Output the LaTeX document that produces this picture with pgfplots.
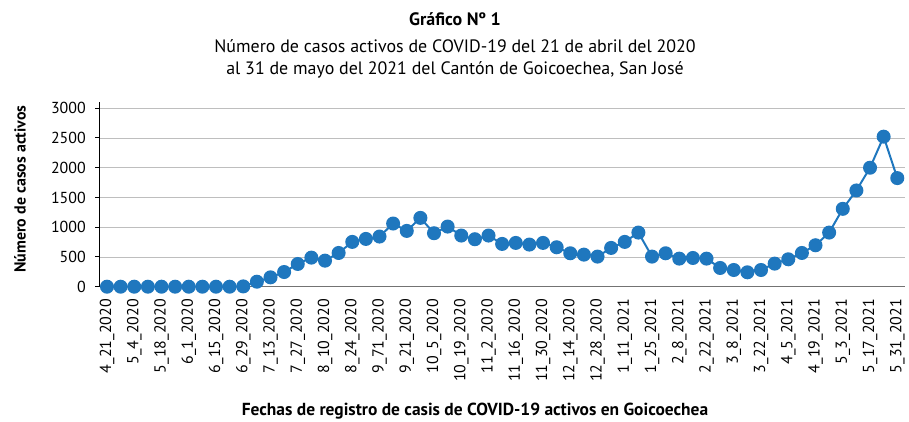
\documentclass[border=0pt]{standalone}
\usepackage{pgfplots}
\pgfplotsset{compat=1.18}
\usepackage{fontspec}
\setmainfont{PT Sans}
\definecolor{serie}{RGB}{31,119,190}
\definecolor{grid}{RGB}{190,190,190}
\begin{document}
\begin{tikzpicture}[x=1bp,y=1bp]
\path[use as bounding box] (0,0) rectangle (909,421);
\begin{axis}[
  at={(99.3bp,134.3bp)}, anchor=south west,
  scale only axis, width=806bp, height=185bp,
  xmin=-0.565, xmax=58.59, ymin=0, ymax=3110,
  axis x line*=bottom, axis y line*=left,
  x axis line style={draw=black!55, line width=1.2bp, -},
  y axis line style={draw=black, line width=1.2bp, -},
  ytick={0,500,...,3000},
  ymajorgrids, grid style={draw=grid, line width=0.9bp},
  xtick={0,2,...,58},
  xticklabels={4\_21\_2020,5\_4\_2020,5\_18\_2020,6\_1\_2020,6\_15\_2020,6\_29\_2020,7\_13\_2020,7\_27\_2020,8\_10\_2020,8\_24\_2020,9\_71\_2020,9\_21\_2020,10\_5\_2020,10\_19\_2020,11\_2\_2020,11\_16\_2020,11\_30\_2020,12\_14\_2020,12\_28\_2020,1\_11\_2021,1\_25\_2021,2\_8\_2021,2\_22\_2021,3\_8\_2021,3\_22\_2021,4\_5\_2021,4\_19\_2021,5\_3\_2021,5\_17\_2021,5\_31\_2021},
  x tick style={draw=none},
  y tick style={draw=black, line width=1bp},
  tick align=outside, major tick length=4bp,
  /pgf/number format/assume math mode=true,
  /pgf/number format/1000 sep={},
  yticklabel style={font=\fontsize{16}{16}\selectfont, xshift=-6bp},
  xticklabel style={font=\fontsize{16}{16}\selectfont, rotate=90, anchor=east, xshift=-5bp},
  scaled y ticks=false,
  clip=false,
]
\addplot[color=serie, line width=2bp, mark=*, mark size=6bp, mark options={fill=serie, draw=serie}] coordinates {
(0,0) (1,0) (2,0) (3,0) (4,0) (5,0) (6,0) (7,0) (8,0) (9,0)
(10,5) (11,84) (12,157) (13,247) (14,382) (15,489) (16,438) (17,567) (18,753) (19,803)
(20,843) (21,1062) (22,938) (23,1157) (24,899) (25,1011) (26,860) (27,798) (28,860) (29,719)
(30,736) (31,708) (32,736) (33,663) (34,562) (35,539) (36,506) (37,652) (38,753) (39,910)
(40,506) (41,562) (42,472) (43,483) (44,472) (45,315) (46,281) (47,242) (48,281) (49,388)
(50,461) (51,567) (52,697) (53,910) (54,1309) (55,1618) (56,2000) (57,2522) (58,1826)
};
\end{axis}
\node[font=\fontsize{18}{18}\selectfont\bfseries] at (455,402) {Gráfico Nº 1};
\node[font=\fontsize{18}{18}\selectfont] at (455,375) {Número de casos activos de COVID-19 del 21 de abril del 2020};
\node[font=\fontsize{18}{18}\selectfont] at (455,351) {al 31 de mayo del 2021 del Cantón de Goicoechea, San José};
\node[font=\fontsize{17.5}{17.5}\selectfont\bfseries] at (475,10) {Fechas de registro de casis de COVID-19 activos en Goicoechea};
\node[font=\fontsize{16}{16}\selectfont\bfseries, rotate=90] at (20,232) {Número de casos activos};
\end{tikzpicture}
\end{document}
